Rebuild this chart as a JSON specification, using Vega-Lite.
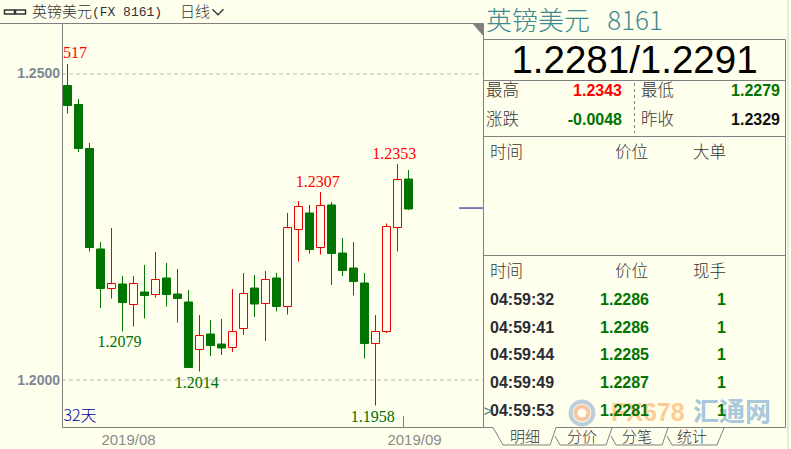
{
"$schema":"https://vega.github.io/schema/vega-lite/v6.json",
"width":791,"height":449,"autosize":{"type":"none"},"padding":0,"background":"#FFFFEE",
"config":{"view":{"stroke":null}},
"datasets":{
"candles":[
{"i":1,"dir":"down","high":1.25163,"top":1.24812,"bottom":1.24485,"low":1.24355},
{"i":2,"dir":"down","high":1.24592,"top":1.24502,"bottom":1.23783,"low":1.23725},
{"i":3,"dir":"down","high":1.23873,"top":1.23783,"bottom":1.22165,"low":1.221},
{"i":4,"dir":"down","high":1.22255,"top":1.22141,"bottom":1.21495,"low":1.21176},
{"i":5,"dir":"up","high":1.22484,"top":1.21577,"bottom":1.21495,"low":1.21332},
{"i":6,"dir":"down","high":1.21699,"top":1.21569,"bottom":1.21266,"low":1.20793},
{"i":7,"dir":"up","high":1.21699,"top":1.21577,"bottom":1.21234,"low":1.20874},
{"i":8,"dir":"down","high":1.21879,"top":1.21438,"bottom":1.21381,"low":1.21005},
{"i":9,"dir":"up","high":1.22092,"top":1.21642,"bottom":1.21397,"low":1.21348},
{"i":10,"dir":"down","high":1.21912,"top":1.21667,"bottom":1.21397,"low":1.21201},
{"i":11,"dir":"down","high":1.21814,"top":1.21405,"bottom":1.21332,"low":1.2094},
{"i":12,"dir":"down","high":1.21471,"top":1.21275,"bottom":1.20204,"low":1.20204},
{"i":13,"dir":"up","high":1.21062,"top":1.20727,"bottom":1.20498,"low":1.20139},
{"i":14,"dir":"down","high":1.2098,"top":1.20752,"bottom":1.20564,"low":1.20392},
{"i":15,"dir":"down","high":1.20997,"top":1.20588,"bottom":1.20523,"low":1.20409},
{"i":16,"dir":"up","high":1.21487,"top":1.20793,"bottom":1.20531,"low":1.20458},
{"i":17,"dir":"up","high":1.21748,"top":1.21413,"bottom":1.20842,"low":1.20735},
{"i":18,"dir":"down","high":1.21716,"top":1.21503,"bottom":1.21242,"low":1.21029},
{"i":19,"dir":"up","high":1.21781,"top":1.21642,"bottom":1.2125,"low":1.20637},
{"i":20,"dir":"down","high":1.21748,"top":1.21667,"bottom":1.21201,"low":1.21119},
{"i":21,"dir":"up","high":1.22729,"top":1.22492,"bottom":1.21201,"low":1.2107},
{"i":22,"dir":"up","high":1.22925,"top":1.22835,"bottom":1.22459,"low":1.21936},
{"i":23,"dir":"down","high":1.2286,"top":1.22729,"bottom":1.22132,"low":1.22067},
{"i":24,"dir":"up","high":1.23072,"top":1.22851,"bottom":1.22165,"low":1.22051},
{"i":25,"dir":"down","high":1.22908,"top":1.2286,"bottom":1.22067,"low":1.21552},
{"i":26,"dir":"down","high":1.2232,"top":1.22075,"bottom":1.21789,"low":1.21699},
{"i":27,"dir":"down","high":1.22255,"top":1.2183,"bottom":1.21609,"low":1.21381},
{"i":28,"dir":"down","high":1.21748,"top":1.21585,"bottom":1.20596,"low":1.20351},
{"i":29,"dir":"up","high":1.21062,"top":1.20793,"bottom":1.20596,"low":1.19583},
{"i":30,"dir":"up","high":1.22557,"top":1.22508,"bottom":1.20793,"low":1.20768},
{"i":31,"dir":"up","high":1.23529,"top":1.23276,"bottom":1.22492,"low":1.221},
{"i":32,"dir":"down","high":1.23431,"top":1.23284,"bottom":1.22794,"low":1.22778}
],
"labels":[
{"at":1.68,"price":1.2534,"text":"517","dir":"up"},
{"at":5.73,"price":1.2062,"text":"1.2079","dir":"down"},
{"at":12.75,"price":1.19956,"text":"1.2014","dir":"down"},
{"at":28.75,"price":1.194,"text":"1.1958","dir":"down"},
{"at":23.75,"price":1.2324,"text":"1.2307","dir":"up"},
{"at":30.7,"price":1.23698,"text":"1.2353","dir":"up"}
]
},
"resolve":{"scale":{"x":"independent","y":"independent"}},
"layer":[
{
"layer":[
{"data":{"values":[{"level":1.25},{"level":1.2}]},"mark":{"type":"rule","stroke":"#BBBBBB","strokeWidth":1,"strokeDash":[4,3]},
 "encoding":{"y":{"field":"level","type":"quantitative","scale":{"domain":[1.18873,1.26209],"nice":false,"zero":false},
 "axis":{"orient":"left","offset":-62.5,"values":[1.25,1.2],"format":".4f","title":null,"domain":false,"ticks":false,"grid":false,"labelPadding":3,"labelColor":"#7C8894","labelFontWeight":"bold","labelFont":"Liberation Sans","labelFontSize":14}},
 "x":{"datum":0.5,"type":"quantitative","scale":{"domain":[-5.1364,66.773],"nice":false,"zero":false,"padding":0},
 "axis":{"orient":"bottom","offset":-21.5,"values":[6.5,32.5],"labelExpr":"datum.value<10?'2019/08':'2019/09'","title":null,"domain":false,"ticks":false,"grid":false,"labelPadding":5,"labelColor":"#8A8A8A","labelFont":"Liberation Sans","labelFontSize":15}},
 "x2":{"datum":38.8}}},
{"data":{"values":[{"last":1.2281}]},"mark":{"type":"rule","stroke":"#000080","strokeWidth":1},
 "encoding":{"y":{"field":"last","type":"quantitative"},"x":{"datum":36.6,"type":"quantitative"},"x2":{"datum":38.77}}},
{"data":{"name":"candles"},"mark":{"type":"rule","strokeWidth":1},
 "encoding":{"x":{"field":"i","type":"quantitative"},"y":{"field":"high","type":"quantitative"},"y2":{"field":"low"},
 "stroke":{"field":"dir","type":"nominal","scale":{"domain":["up","down"],"range":["#E60000","#007400"]},"legend":null}}},
{"data":{"name":"candles"},"mark":{"type":"bar","size":8,"strokeWidth":1},
 "encoding":{"x":{"field":"i","type":"quantitative"},"y":{"field":"top","type":"quantitative"},"y2":{"field":"bottom"},
 "stroke":{"field":"dir","type":"nominal","scale":{"domain":["up","down"],"range":["#E60000","#007400"]},"legend":null},
 "fill":{"field":"dir","type":"nominal","scale":{"domain":["up","down"],"range":["#FFFFEE","#007400"]},"legend":null}}},
{"data":{"name":"labels"},"mark":{"type":"text","font":"Liberation Serif","fontSize":16,"align":"center","baseline":"middle"},
 "encoding":{"x":{"field":"at","type":"quantitative"},"y":{"field":"price","type":"quantitative"},"text":{"field":"text"},
 "color":{"field":"dir","type":"nominal","scale":{"domain":["up","down"],"range":["#FF0000","#006E00"]},"legend":null}}}
]
},
{
"encoding":{
 "x":{"field":"c","type":"quantitative","axis":null,"scale":{"nice":false,"zero":false,"domain":[0,1,2,3,4,5,6,7,8,9,10,11,12,13,14,15,16,17,18,19,20,21,22,23,24,25,26,27,28,29,30,31,32,33,34,35,36,37,38,39,40,41],"range":[0,9.5,20.5,32,62.5,180,218,403.5,483.5,486,490,493,503,525,550,555,556,560,582,606,611,612,615,616,622,634.5,637,641,649,662,667,668,672,692,693,717,724,726,780,785.5,788,791]}},
 "y":{"field":"r","type":"quantitative","axis":null,"scale":{"nice":false,"zero":false,"domain":[0,1,2,3,4,5,6,7,8,9,10,11,12,13,14,15,16,17,18,19,20,21,22,23,24,25,26,27],"range":[0,12,22,23.5,39.5,60.5,80.5,83,91,120,133,136.5,153,255.5,272,299.5,327.5,355,383,411,413,416,427.5,428,436,437,445,449]}}
},
"layer":[
{"data":{"values":[{"c":0,"c2":8,"r":3},{"c":4,"c2":11,"r":22},{"c":16,"c2":39,"r":22},{"c":8,"c2":39,"r":4},{"c":8,"c2":39,"r":6},{"c":8,"c2":39,"r":11},{"c":8,"c2":39,"r":13}]},
 "mark":{"type":"rule","stroke":"#808080","strokeWidth":1},"encoding":{"x2":{"field":"c2"}}},
{"data":{"values":[{"c":4,"r":3,"r2":22},{"c":8,"r":3,"r2":22},{"c":39,"r":4,"r2":22},{"c":7,"r":21,"r2":22}]},
 "mark":{"type":"rule","stroke":"#808080","strokeWidth":1},"encoding":{"y2":{"field":"r2"}}},
{"data":{"values":[{"c":40,"r":0,"r2":27}]},"mark":{"type":"rule","stroke":"#D0D0D0","strokeWidth":1},"encoding":{"y2":{"field":"r2"}}},
{"data":{"values":[{"c":25,"r":7,"r2":10}]},"mark":{"type":"rule","stroke":"#808080","strokeWidth":1,"strokeDash":[3,3]},"encoding":{"y2":{"field":"r2"}}},
{"data":{"values":[
 {"tab":"a","c":11,"r":22},{"tab":"a","c":12,"r":26},{"tab":"a","c":14,"r":26},{"tab":"a","c":16,"r":22},
 {"tab":"b","c":15,"r":24},{"tab":"b","c":17,"r":26},{"tab":"b","c":19,"r":26},{"tab":"b","c":21,"r":23},
 {"tab":"c","c":20,"r":24},{"tab":"c","c":23,"r":26},{"tab":"c","c":29,"r":26},{"tab":"c","c":31,"r":23},
 {"tab":"d","c":30,"r":24},{"tab":"d","c":32,"r":26},{"tab":"d","c":35,"r":26},{"tab":"d","c":36,"r":23}]},
 "mark":{"type":"line","stroke":"#808080","strokeWidth":1},"encoding":{"detail":{"field":"tab"}}},
{"data":{"values":[{"c":8,"r":3}]},"mark":{"type":"point","shape":"M-1,0H0V1.15Z","size":484,"filled":true,"fill":"#808080","stroke":null,"opacity":1}},
{"data":{"values":[{"c":1,"r":1},{"c":2,"r":1}]},"mark":{"type":"point","shape":"M-1,-0.4H1V0.4H-1Z","size":100,"filled":false,"stroke":"#333333","strokeWidth":1.5,"opacity":1}},
{"data":{"values":[{"c":6,"r":1}]},"mark":{"type":"point","shape":"M-1,-0.5L0,0.5L1,-0.5","size":121,"filled":false,"stroke":"#333333","strokeWidth":1.3,"opacity":1}},
{"data":{"values":[{"c":3,"r":1,"t":"英镑美元"},{"c":5,"r":1,"t":"日线"}]},
 "mark":{"type":"text","font":"Noto Sans CJK SC","fontSize":15,"fontWeight":300,"align":"left","baseline":"middle","fill":"#333333"},"encoding":{"text":{"field":"t"}}},
{"data":{"values":[{"c":4.25,"r":1,"t":"(FX 8161)"}]},
 "mark":{"type":"text","font":"Liberation Mono","fontSize":13,"align":"left","baseline":"middle","fill":"#333333"},"encoding":{"text":{"field":"t"}}},
{"data":{"values":[{"c":9,"r":8,"t":"最高"},{"c":27,"r":8,"t":"最低"},{"c":9,"r":9,"t":"涨跌"},{"c":27,"r":9,"t":"昨收"},{"c":10,"r":12,"t":"时间"},{"c":22,"r":12,"t":"价位"},{"c":34,"r":12,"t":"大单"},{"c":10,"r":14,"t":"时间"},{"c":22,"r":14,"t":"价位"},{"c":34,"r":14,"t":"现手"}]},
 "mark":{"type":"text","font":"Noto Sans CJK SC","fontSize":16.5,"fontWeight":300,"align":"left","baseline":"middle","fill":"#333333"},"encoding":{"text":{"field":"t"}}},
{"data":{"values":[{"c":13,"r":25,"t":"明细"},{"c":18,"r":25,"t":"分价"},{"c":26,"r":25,"t":"分笔"},{"c":33,"r":25,"t":"统计"}]},
 "mark":{"type":"text","font":"Noto Sans CJK SC","fontSize":15,"fontWeight":300,"align":"center","baseline":"middle","fill":"#333333"},"encoding":{"text":{"field":"t"}}},
{"data":{"values":[{"c":4,"r":21,"t":"32天"}]},"mark":{"type":"text","font":"Noto Sans CJK SC","fontSize":16,"fontWeight":300,"align":"left","dx":1,"baseline":"middle","fill":"#0000A0"},"encoding":{"text":{"field":"t"}}},
{"data":{"values":[{"c":9,"r":2,"t":"英镑美元\u00a0\u00a0\u00a08161"}]},"mark":{"type":"text","font":"Noto Sans CJK SC","fontSize":26,"fontWeight":300,"align":"left","baseline":"middle","fill":"#3F8A90"},"encoding":{"text":{"field":"t"}}},
{"data":{"values":[{"c":25,"r":5,"t":"1.2281/1.2291"}]},"mark":{"type":"text","font":"Liberation Sans","fontSize":38.5,"align":"center","baseline":"middle","fill":"#000000"},"encoding":{"text":{"field":"t"}}},
{"data":{"values":[{"c":18,"r":20}]},"mark":{"type":"point","shape":"circle","size":520,"filled":false,"stroke":"#8FB0D0","strokeWidth":4,"opacity":0.6}},
{"data":{"values":[{"c":18,"r":20}]},"mark":{"type":"point","shape":"circle","size":170,"filled":false,"stroke":"#F2A272","strokeWidth":4,"opacity":0.6}},
{"data":{"values":[{"c":20,"r":20,"t":"FX678"}]},"mark":{"type":"text","font":"Liberation Sans","fontWeight":"bold","fontSize":25,"align":"left","baseline":"middle","fill":"#FFCB95"},"encoding":{"text":{"field":"t"}}},
{"data":{"values":[{"c":34,"r":20,"t":"汇通网"}]},"mark":{"type":"text","font":"Noto Sans CJK SC","fontWeight":"bold","fontSize":26,"align":"left","baseline":"middle","fill":"#A9C8DC"},"encoding":{"text":{"field":"t"}}},
{"data":{"values":[{"c":24,"r":8,"t":"1.2343"}]},"mark":{"type":"text","font":"Liberation Sans","fontWeight":"bold","fontSize":16,"align":"right","baseline":"middle","fill":"#FF0000"},"encoding":{"text":{"field":"t"}}},
{"data":{"values":[{"c":38,"r":8,"t":"1.2279"},{"c":24,"r":9,"t":"-0.0048"},{"c":28,"r":15,"t":"1.2286"},{"c":28,"r":16,"t":"1.2286"},{"c":28,"r":17,"t":"1.2285"},{"c":28,"r":18,"t":"1.2287"},{"c":28,"r":19,"t":"1.2281"},{"c":37,"r":15,"t":"1"},{"c":37,"r":16,"t":"1"},{"c":37,"r":17,"t":"1"},{"c":37,"r":18,"t":"1"},{"c":37,"r":19,"t":"1"}]},
 "mark":{"type":"text","font":"Liberation Sans","fontWeight":"bold","fontSize":16,"align":"right","baseline":"middle","fill":"#007400"},"encoding":{"text":{"field":"t"}}},
{"data":{"values":[{"c":38,"r":9,"t":"1.2329"}]},"mark":{"type":"text","font":"Liberation Sans","fontWeight":"bold","fontSize":16,"align":"right","baseline":"middle","fill":"#111111"},"encoding":{"text":{"field":"t"}}},
{"data":{"values":[{"c":10,"r":15,"t":"04:59:32"},{"c":10,"r":16,"t":"04:59:41"},{"c":10,"r":17,"t":"04:59:44"},{"c":10,"r":18,"t":"04:59:49"},{"c":10,"r":19,"t":"04:59:53"}]},
 "mark":{"type":"text","font":"Liberation Sans","fontWeight":"bold","fontSize":16,"align":"left","baseline":"middle","fill":"#2B2B33"},"encoding":{"text":{"field":"t"}}},
{"data":{"values":[{"c":8,"r":19,"t":">"}]},"mark":{"type":"text","font":"Liberation Sans","fontSize":15,"align":"left","baseline":"middle","fill":"#2F7F85"},"encoding":{"text":{"field":"t"}}}
]
}
]
}
